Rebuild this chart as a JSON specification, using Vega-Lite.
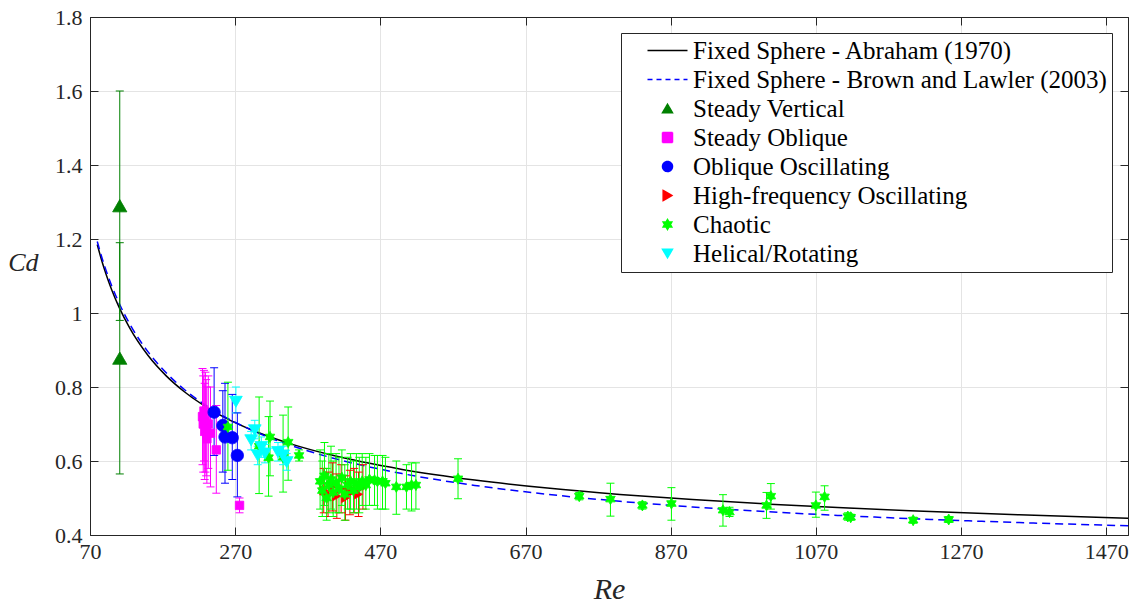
{
  "$schema": "https://vega.github.io/schema/vega-lite/v6.json",
  "width": 1038,
  "height": 518,
  "autosize": {"type": "none"},
  "padding": {"left": 90, "top": 17, "right": 10, "bottom": 72},
  "background": "white",
  "config": {
    "font": "Liberation Serif",
    "view": {"stroke": "#262626", "strokeWidth": 1},
    "legend": {
      "orient": "top-right", "offset": 16,
      "labelFont": "Liberation Serif", "labelFontSize": 25, "labelColor": "#000000", "labelLimit": 800,
      "strokeColor": "#262626", "fillColor": "white", "padding": 5,
      "symbolSize": 100, "symbolOffset": 29, "labelOffset": 13, "rowPadding": 3, "symbolStrokeWidth": 1.5
    }
  },
  "datasets": {
    "curves": [
      {"series": "Fixed Sphere - Abraham (1970)", "Re": 80, "Cd": 1.1848},
      {"series": "Fixed Sphere - Abraham (1970)", "Re": 85, "Cd": 1.1495},
      {"series": "Fixed Sphere - Abraham (1970)", "Re": 90, "Cd": 1.1176},
      {"series": "Fixed Sphere - Abraham (1970)", "Re": 95, "Cd": 1.0886},
      {"series": "Fixed Sphere - Abraham (1970)", "Re": 100, "Cd": 1.0622},
      {"series": "Fixed Sphere - Abraham (1970)", "Re": 110, "Cd": 1.0158},
      {"series": "Fixed Sphere - Abraham (1970)", "Re": 125, "Cd": 0.9583},
      {"series": "Fixed Sphere - Abraham (1970)", "Re": 150, "Cd": 0.8850},
      {"series": "Fixed Sphere - Abraham (1970)", "Re": 175, "Cd": 0.8301},
      {"series": "Fixed Sphere - Abraham (1970)", "Re": 200, "Cd": 0.7871},
      {"series": "Fixed Sphere - Abraham (1970)", "Re": 250, "Cd": 0.7235},
      {"series": "Fixed Sphere - Abraham (1970)", "Re": 300, "Cd": 0.6783},
      {"series": "Fixed Sphere - Abraham (1970)", "Re": 350, "Cd": 0.6442},
      {"series": "Fixed Sphere - Abraham (1970)", "Re": 400, "Cd": 0.6173},
      {"series": "Fixed Sphere - Abraham (1970)", "Re": 500, "Cd": 0.5773},
      {"series": "Fixed Sphere - Abraham (1970)", "Re": 600, "Cd": 0.5487},
      {"series": "Fixed Sphere - Abraham (1970)", "Re": 700, "Cd": 0.5269},
      {"series": "Fixed Sphere - Abraham (1970)", "Re": 800, "Cd": 0.5097},
      {"series": "Fixed Sphere - Abraham (1970)", "Re": 900, "Cd": 0.4957},
      {"series": "Fixed Sphere - Abraham (1970)", "Re": 1000, "Cd": 0.4840},
      {"series": "Fixed Sphere - Abraham (1970)", "Re": 1100, "Cd": 0.4740},
      {"series": "Fixed Sphere - Abraham (1970)", "Re": 1200, "Cd": 0.4654},
      {"series": "Fixed Sphere - Abraham (1970)", "Re": 1350, "Cd": 0.4544},
      {"series": "Fixed Sphere - Abraham (1970)", "Re": 1500, "Cd": 0.4452},
      {"series": "Fixed Sphere - Brown and Lawler (2003)", "Re": 80, "Cd": 1.1934},
      {"series": "Fixed Sphere - Brown and Lawler (2003)", "Re": 85, "Cd": 1.1589},
      {"series": "Fixed Sphere - Brown and Lawler (2003)", "Re": 90, "Cd": 1.1277},
      {"series": "Fixed Sphere - Brown and Lawler (2003)", "Re": 95, "Cd": 1.0992},
      {"series": "Fixed Sphere - Brown and Lawler (2003)", "Re": 100, "Cd": 1.0732},
      {"series": "Fixed Sphere - Brown and Lawler (2003)", "Re": 110, "Cd": 1.0270},
      {"series": "Fixed Sphere - Brown and Lawler (2003)", "Re": 125, "Cd": 0.9694},
      {"series": "Fixed Sphere - Brown and Lawler (2003)", "Re": 150, "Cd": 0.8949},
      {"series": "Fixed Sphere - Brown and Lawler (2003)", "Re": 175, "Cd": 0.8383},
      {"series": "Fixed Sphere - Brown and Lawler (2003)", "Re": 200, "Cd": 0.7933},
      {"series": "Fixed Sphere - Brown and Lawler (2003)", "Re": 250, "Cd": 0.7259},
      {"series": "Fixed Sphere - Brown and Lawler (2003)", "Re": 300, "Cd": 0.6771},
      {"series": "Fixed Sphere - Brown and Lawler (2003)", "Re": 350, "Cd": 0.6399},
      {"series": "Fixed Sphere - Brown and Lawler (2003)", "Re": 400, "Cd": 0.6103},
      {"series": "Fixed Sphere - Brown and Lawler (2003)", "Re": 500, "Cd": 0.5660},
      {"series": "Fixed Sphere - Brown and Lawler (2003)", "Re": 600, "Cd": 0.5341},
      {"series": "Fixed Sphere - Brown and Lawler (2003)", "Re": 700, "Cd": 0.5100},
      {"series": "Fixed Sphere - Brown and Lawler (2003)", "Re": 800, "Cd": 0.4911},
      {"series": "Fixed Sphere - Brown and Lawler (2003)", "Re": 900, "Cd": 0.4758},
      {"series": "Fixed Sphere - Brown and Lawler (2003)", "Re": 1000, "Cd": 0.4634},
      {"series": "Fixed Sphere - Brown and Lawler (2003)", "Re": 1100, "Cd": 0.4530},
      {"series": "Fixed Sphere - Brown and Lawler (2003)", "Re": 1200, "Cd": 0.4443},
      {"series": "Fixed Sphere - Brown and Lawler (2003)", "Re": 1350, "Cd": 0.4336},
      {"series": "Fixed Sphere - Brown and Lawler (2003)", "Re": 1500, "Cd": 0.4250}
    ],
    "pts": [
      {"series": "Steady Vertical", "Re": 111, "Cd": 1.29, "lo": 0.98, "hi": 1.60},
      {"series": "Steady Vertical", "Re": 111, "Cd": 0.878, "lo": 0.565, "hi": 1.19},
      {"series": "Steady Oblique", "Re": 225, "Cd": 0.72, "lo": 0.59, "hi": 0.85},
      {"series": "Steady Oblique", "Re": 226, "Cd": 0.70, "lo": 0.57, "hi": 0.83},
      {"series": "Steady Oblique", "Re": 227, "Cd": 0.735, "lo": 0.60, "hi": 0.845},
      {"series": "Steady Oblique", "Re": 228, "Cd": 0.68, "lo": 0.55, "hi": 0.81},
      {"series": "Steady Oblique", "Re": 229, "Cd": 0.71, "lo": 0.57, "hi": 0.84},
      {"series": "Steady Oblique", "Re": 230, "Cd": 0.69, "lo": 0.56, "hi": 0.82},
      {"series": "Steady Oblique", "Re": 231, "Cd": 0.66, "lo": 0.54, "hi": 0.80},
      {"series": "Steady Oblique", "Re": 233, "Cd": 0.70, "lo": 0.58, "hi": 0.83},
      {"series": "Steady Oblique", "Re": 236, "Cd": 0.675, "lo": 0.53, "hi": 0.80},
      {"series": "Steady Oblique", "Re": 244, "Cd": 0.63, "lo": 0.513, "hi": 0.75},
      {"series": "Steady Oblique", "Re": 276, "Cd": 0.48, "lo": 0.46, "hi": 0.50},
      {"series": "Oblique Oscillating", "Re": 241, "Cd": 0.732, "lo": 0.615, "hi": 0.852},
      {"series": "Oblique Oscillating", "Re": 253, "Cd": 0.696, "lo": 0.57, "hi": 0.79},
      {"series": "Oblique Oscillating", "Re": 256, "Cd": 0.665, "lo": 0.54, "hi": 0.81},
      {"series": "Oblique Oscillating", "Re": 266, "Cd": 0.663, "lo": 0.55, "hi": 0.78},
      {"series": "Oblique Oscillating", "Re": 273, "Cd": 0.615, "lo": 0.503, "hi": 0.73},
      {"series": "High-frequency Oscillating", "Re": 392, "Cd": 0.52, "lo": 0.46, "hi": 0.58},
      {"series": "High-frequency Oscillating", "Re": 398, "Cd": 0.51, "lo": 0.45, "hi": 0.57},
      {"series": "High-frequency Oscillating", "Re": 404, "Cd": 0.53, "lo": 0.465, "hi": 0.595},
      {"series": "High-frequency Oscillating", "Re": 410, "Cd": 0.505, "lo": 0.445, "hi": 0.565},
      {"series": "High-frequency Oscillating", "Re": 416, "Cd": 0.525, "lo": 0.46, "hi": 0.59},
      {"series": "High-frequency Oscillating", "Re": 422, "Cd": 0.50, "lo": 0.44, "hi": 0.56},
      {"series": "High-frequency Oscillating", "Re": 428, "Cd": 0.515, "lo": 0.455, "hi": 0.575},
      {"series": "High-frequency Oscillating", "Re": 434, "Cd": 0.52, "lo": 0.46, "hi": 0.58},
      {"series": "High-frequency Oscillating", "Re": 440, "Cd": 0.51, "lo": 0.45, "hi": 0.57},
      {"series": "High-frequency Oscillating", "Re": 446, "Cd": 0.53, "lo": 0.47, "hi": 0.59},
      {"series": "Chaotic", "Re": 260, "Cd": 0.692, "lo": 0.575, "hi": 0.813},
      {"series": "Chaotic", "Re": 303, "Cd": 0.64, "lo": 0.512, "hi": 0.773},
      {"series": "Chaotic", "Re": 316, "Cd": 0.609, "lo": 0.505, "hi": 0.72},
      {"series": "Chaotic", "Re": 318, "Cd": 0.665, "lo": 0.56, "hi": 0.762},
      {"series": "Chaotic", "Re": 336, "Cd": 0.61, "lo": 0.516, "hi": 0.724},
      {"series": "Chaotic", "Re": 343, "Cd": 0.651, "lo": 0.548, "hi": 0.746},
      {"series": "Chaotic", "Re": 358, "Cd": 0.615, "lo": 0.60, "hi": 0.63},
      {"series": "Chaotic", "Re": 387, "Cd": 0.545, "lo": 0.47, "hi": 0.63},
      {"series": "Chaotic", "Re": 390, "Cd": 0.52, "lo": 0.45, "hi": 0.60},
      {"series": "Chaotic", "Re": 393, "Cd": 0.56, "lo": 0.48, "hi": 0.65},
      {"series": "Chaotic", "Re": 396, "Cd": 0.50, "lo": 0.44, "hi": 0.58},
      {"series": "Chaotic", "Re": 399, "Cd": 0.535, "lo": 0.46, "hi": 0.62},
      {"series": "Chaotic", "Re": 402, "Cd": 0.55, "lo": 0.47, "hi": 0.64},
      {"series": "Chaotic", "Re": 405, "Cd": 0.515, "lo": 0.45, "hi": 0.60},
      {"series": "Chaotic", "Re": 409, "Cd": 0.54, "lo": 0.46, "hi": 0.62},
      {"series": "Chaotic", "Re": 413, "Cd": 0.525, "lo": 0.46, "hi": 0.61},
      {"series": "Chaotic", "Re": 417, "Cd": 0.555, "lo": 0.48, "hi": 0.63},
      {"series": "Chaotic", "Re": 421, "Cd": 0.51, "lo": 0.44, "hi": 0.59},
      {"series": "Chaotic", "Re": 425, "Cd": 0.535, "lo": 0.47, "hi": 0.61},
      {"series": "Chaotic", "Re": 429, "Cd": 0.545, "lo": 0.47, "hi": 0.62},
      {"series": "Chaotic", "Re": 433, "Cd": 0.52, "lo": 0.46, "hi": 0.60},
      {"series": "Chaotic", "Re": 437, "Cd": 0.54, "lo": 0.47, "hi": 0.62},
      {"series": "Chaotic", "Re": 441, "Cd": 0.53, "lo": 0.46, "hi": 0.61},
      {"series": "Chaotic", "Re": 445, "Cd": 0.545, "lo": 0.48, "hi": 0.62},
      {"series": "Chaotic", "Re": 450, "Cd": 0.535, "lo": 0.47, "hi": 0.61},
      {"series": "Chaotic", "Re": 455, "Cd": 0.55, "lo": 0.48, "hi": 0.62},
      {"series": "Chaotic", "Re": 462, "Cd": 0.548, "lo": 0.48, "hi": 0.615},
      {"series": "Chaotic", "Re": 466, "Cd": 0.545, "lo": 0.47, "hi": 0.615},
      {"series": "Chaotic", "Re": 473, "Cd": 0.545, "lo": 0.47, "hi": 0.615},
      {"series": "Chaotic", "Re": 477, "Cd": 0.54, "lo": 0.47, "hi": 0.61},
      {"series": "Chaotic", "Re": 492, "Cd": 0.53, "lo": 0.456, "hi": 0.60},
      {"series": "Chaotic", "Re": 506, "Cd": 0.53, "lo": 0.47, "hi": 0.59},
      {"series": "Chaotic", "Re": 513, "Cd": 0.535, "lo": 0.465, "hi": 0.595},
      {"series": "Chaotic", "Re": 519, "Cd": 0.535, "lo": 0.47, "hi": 0.595},
      {"series": "Chaotic", "Re": 577, "Cd": 0.552, "lo": 0.498, "hi": 0.606},
      {"series": "Chaotic", "Re": 744, "Cd": 0.505, "lo": 0.495, "hi": 0.515},
      {"series": "Chaotic", "Re": 787, "Cd": 0.497, "lo": 0.451, "hi": 0.54},
      {"series": "Chaotic", "Re": 831, "Cd": 0.48, "lo": 0.47, "hi": 0.49},
      {"series": "Chaotic", "Re": 871, "Cd": 0.485, "lo": 0.44, "hi": 0.528},
      {"series": "Chaotic", "Re": 942, "Cd": 0.467, "lo": 0.424, "hi": 0.509},
      {"series": "Chaotic", "Re": 951, "Cd": 0.462, "lo": 0.45, "hi": 0.475},
      {"series": "Chaotic", "Re": 1002, "Cd": 0.48, "lo": 0.445, "hi": 0.515},
      {"series": "Chaotic", "Re": 1008, "Cd": 0.505, "lo": 0.47, "hi": 0.539},
      {"series": "Chaotic", "Re": 1070, "Cd": 0.48, "lo": 0.448, "hi": 0.516},
      {"series": "Chaotic", "Re": 1082, "Cd": 0.503, "lo": 0.467, "hi": 0.533},
      {"series": "Chaotic", "Re": 1114, "Cd": 0.45, "lo": 0.44, "hi": 0.46},
      {"series": "Chaotic", "Re": 1118, "Cd": 0.448, "lo": 0.44, "hi": 0.456},
      {"series": "Chaotic", "Re": 1204, "Cd": 0.44, "lo": 0.432, "hi": 0.448},
      {"series": "Chaotic", "Re": 1253, "Cd": 0.442, "lo": 0.434, "hi": 0.45},
      {"series": "Helical/Rotating", "Re": 271, "Cd": 0.76, "lo": 0.73, "hi": 0.80},
      {"series": "Helical/Rotating", "Re": 292, "Cd": 0.656, "lo": 0.63, "hi": 0.68},
      {"series": "Helical/Rotating", "Re": 297, "Cd": 0.683, "lo": 0.66, "hi": 0.71},
      {"series": "Helical/Rotating", "Re": 301, "Cd": 0.615, "lo": 0.59, "hi": 0.64},
      {"series": "Helical/Rotating", "Re": 306, "Cd": 0.638, "lo": 0.61, "hi": 0.665},
      {"series": "Helical/Rotating", "Re": 311, "Cd": 0.62, "lo": 0.595, "hi": 0.645},
      {"series": "Helical/Rotating", "Re": 329, "Cd": 0.624, "lo": 0.60, "hi": 0.65},
      {"series": "Helical/Rotating", "Re": 336, "Cd": 0.615, "lo": 0.59, "hi": 0.64},
      {"series": "Helical/Rotating", "Re": 341, "Cd": 0.597, "lo": 0.575, "hi": 0.62}
    ]
  },
  "resolve": {"axis": {"x": "independent", "y": "independent"}},
  "layer": [
    {
      "data": {"name": "curves"},
      "transform": [{"filter": "datum.series === 'Fixed Sphere - Abraham (1970)'"}],
      "mark": {"type": "line", "strokeWidth": 1.5, "interpolate": "monotone"},
      "encoding": {
        "x": {"field": "Re", "type": "quantitative",
          "scale": {"domain": [70, 1500], "nice": false, "zero": false},
          "axis": {"orient": "bottom", "values": [70, 270, 470, 670, 870, 1070, 1270, 1470], "format": "d",
            "title": "Re", "titleFont": "Liberation Serif", "titleFontStyle": "italic", "titleFontWeight": "normal", "titleFontSize": 30, "titleColor": "#262626", "titlePadding": 12,
            "labelFont": "Liberation Serif", "labelFontSize": 22, "labelColor": "#262626", "labelPadding": 14, "labelFlush": false, "labelOverlap": false,
            "grid": true, "gridColor": "#e4e4e4", "domainColor": "#262626", "tickColor": "#262626", "tickSize": -8}},
        "y": {"field": "Cd", "type": "quantitative",
          "scale": {"domain": [0.4, 1.8], "nice": false, "zero": false},
          "axis": {"orient": "left", "values": [0.4, 0.6, 0.8, 1.0, 1.2, 1.4, 1.6, 1.8], "format": "~g",
            "title": "Cd", "titleFont": "Liberation Serif", "titleFontStyle": "italic", "titleFontWeight": "normal", "titleFontSize": 26, "titleColor": "#262626",
            "titleAngle": 0, "titleAlign": "right", "titleBaseline": "middle", "titleX": -52, "titleY": 245,
            "labelFont": "Liberation Serif", "labelFontSize": 22, "labelColor": "#262626", "labelPadding": 16, "labelFlush": false, "labelOverlap": false,
            "grid": true, "gridColor": "#e4e4e4", "domainColor": "#262626", "tickColor": "#262626", "tickSize": -8}},
        "color": {"field": "series", "type": "nominal", "legend": {"title": null},
          "scale": {"domain": ["Fixed Sphere - Abraham (1970)", "Fixed Sphere - Brown and Lawler (2003)", "Steady Vertical", "Steady Oblique", "Oblique Oscillating", "High-frequency Oscillating", "Chaotic", "Helical/Rotating"],
                    "range": ["#000000", "#0000ff", "#008000", "#ff00ff", "#0000ff", "#ff0000", "#00ff00", "#00ffff"]}}
      }
    },
    {
      "data": {"name": "curves"},
      "transform": [{"filter": "datum.series === 'Fixed Sphere - Brown and Lawler (2003)'"}],
      "mark": {"type": "line", "strokeWidth": 1.5, "strokeDash": [8, 5], "interpolate": "monotone"},
      "encoding": {
        "x": {"field": "Re", "type": "quantitative",
          "axis": {"orient": "top", "values": [70, 270, 470, 670, 870, 1070, 1270, 1470], "labels": false, "grid": false, "title": null,
            "domainColor": "#262626", "tickColor": "#262626", "tickSize": -8}},
        "y": {"field": "Cd", "type": "quantitative",
          "axis": {"orient": "right", "values": [0.4, 0.6, 0.8, 1.0, 1.2, 1.4, 1.6, 1.8], "labels": false, "grid": false, "title": null,
            "domainColor": "#262626", "tickColor": "#262626", "tickSize": -8}},
        "color": {"field": "series", "type": "nominal", "legend": {"title": null}}
      }
    },
    {
      "data": {"name": "pts"},
      "mark": {"type": "rule", "strokeWidth": 1},
      "encoding": {
        "x": {"field": "Re", "type": "quantitative", "axis": null},
        "y": {"field": "lo", "type": "quantitative", "axis": null},
        "y2": {"field": "hi"},
        "color": {"field": "series", "type": "nominal", "legend": {"title": null}}
      }
    },
    {
      "data": {"name": "pts"},
      "mark": {"type": "tick", "orient": "horizontal", "size": 8, "thickness": 1, "opacity": 1},
      "encoding": {
        "x": {"field": "Re", "type": "quantitative", "axis": null},
        "y": {"field": "lo", "type": "quantitative", "axis": null},
        "color": {"field": "series", "type": "nominal", "legend": {"title": null}}
      }
    },
    {
      "data": {"name": "pts"},
      "mark": {"type": "tick", "orient": "horizontal", "size": 8, "thickness": 1, "opacity": 1},
      "encoding": {
        "x": {"field": "Re", "type": "quantitative", "axis": null},
        "y": {"field": "hi", "type": "quantitative", "axis": null},
        "color": {"field": "series", "type": "nominal", "legend": {"title": null}}
      }
    },
    {
      "data": {"name": "pts"},
      "mark": {"type": "point", "filled": false, "opacity": 1, "strokeWidth": 1},
      "encoding": {
        "x": {"field": "Re", "type": "quantitative", "axis": null},
        "y": {"field": "Cd", "type": "quantitative", "axis": null},
        "color": {"field": "series", "type": "nominal", "legend": {"title": null}},
        "fill": {"field": "series", "type": "nominal", "legend": {"title": null},
          "scale": {"domain": ["Fixed Sphere - Abraham (1970)", "Fixed Sphere - Brown and Lawler (2003)", "Steady Vertical", "Steady Oblique", "Oblique Oscillating", "High-frequency Oscillating", "Chaotic", "Helical/Rotating"],
                    "range": ["#000000", "#0000ff", "#008000", "#ff00ff", "#0000ff", "#ff0000", "#00ff00", "#00ffff"]}},
        "strokeDash": {"field": "series", "type": "nominal", "legend": {"title": null},
          "scale": {"domain": ["Fixed Sphere - Abraham (1970)", "Fixed Sphere - Brown and Lawler (2003)", "Steady Vertical", "Steady Oblique", "Oblique Oscillating", "High-frequency Oscillating", "Chaotic", "Helical/Rotating"],
                    "range": [[1, 0], [5, 4], [1, 0], [1, 0], [1, 0], [1, 0], [1, 0], [1, 0]]}},
        "shape": {"field": "series", "type": "nominal", "legend": {"title": null},
          "scale": {"domain": ["Fixed Sphere - Abraham (1970)", "Fixed Sphere - Brown and Lawler (2003)", "Steady Vertical", "Steady Oblique", "Oblique Oscillating", "High-frequency Oscillating", "Chaotic", "Helical/Rotating"],
                    "range": ["M-4,0L4,0", "M-4,0L4,0", "triangle-up", "square", "circle", "triangle-right", "M0,-1L0.289,-0.5L0.866,-0.5L0.577,0L0.866,0.5L0.289,0.5L0,1L-0.289,0.5L-0.866,0.5L-0.577,0L-0.866,-0.5L-0.289,-0.5Z", "triangle-down"]}},
        "size": {
          "condition": [
            {"test": "datum.series === 'Steady Vertical'", "value": 200},
            {"test": "datum.series === 'Steady Oblique'", "value": 70},
            {"test": "datum.series === 'Oblique Oscillating'", "value": 150},
            {"test": "datum.series === 'High-frequency Oscillating'", "value": 80},
            {"test": "datum.series === 'Chaotic'", "value": 120}
          ],
          "value": 160
        }
      }
    }
  ]
}
